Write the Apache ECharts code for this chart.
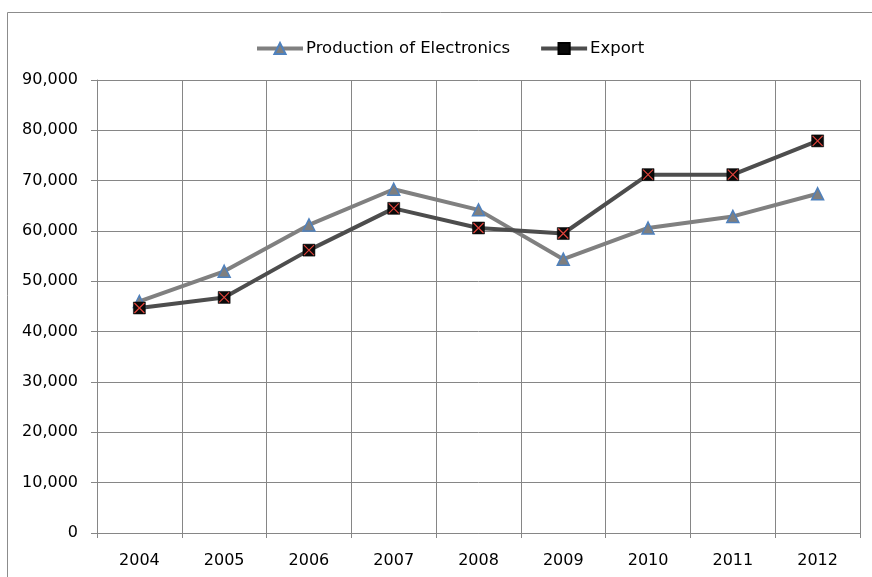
<!DOCTYPE html>
<html>
<head>
<meta charset="utf-8">
<script src="https://cdn.jsdelivr.net/npm/echarts@6/dist/echarts.min.js"></script>
<style>html,body{margin:0;padding:0;background:#fff;}#c{width:872px;height:577px;}</style>
</head>
<body>
<div id="c"></div>
<script>
var years = ['2004','2005','2006','2007','2008','2009','2010','2011','2012'];
var production = [46000, 52000, 61200, 68300, 64200, 54400, 60600, 62900, 67400];
var exportVals = [44700, 46800, 56200, 64500, 60600, 59500, 71200, 71200, 77900];
var yTicks = {min: 0, max: 90000, interval: 10000};

var FONT = 'DejaVu Sans';
var chart = echarts.init(document.getElementById('c'), null, {renderer: 'canvas'});
var xPath = 'path://M0,0 L10,10 M10,0 L0,10';
chart.setOption({
  animation: false,
  backgroundColor: '#fff',
  textStyle: {fontFamily: FONT},
  graphic: [{
    type: 'rect', silent: true,
    shape: {x: 7.5, y: 12.5, width: 900, height: 700},
    style: {fill: 'none', stroke: '#8c8c8c', lineWidth: 1}
  }],
  legend: {
    top: 35, left: 250,
    itemGap: 29, itemWidth: 46, itemHeight: 14,
    lineStyle: {width: 4},
    data: ['Production of Electronics', 'Export'],
    textStyle: {fontFamily: FONT, fontSize: 16.5, color: '#000', padding: [0, 0, 0, -2]}
  },
  grid: {left: 97, right: 12, top: 80, bottom: 44, containLabel: false},
  xAxis: {
    type: 'category', data: years, boundaryGap: true,
    axisLine: {show: true, lineStyle: {color: '#868686', width: 1}},
    axisTick: {show: true, length: 5, lineStyle: {color: '#868686'}},
    axisLabel: {fontFamily: FONT, fontSize: 16, color: '#000', margin: 20},
    splitLine: {show: true, lineStyle: {color: '#868686', width: 1}}
  },
  yAxis: {
    type: 'value', min: yTicks.min, max: yTicks.max, interval: yTicks.interval,
    axisLine: {show: true, lineStyle: {color: '#868686', width: 1}},
    axisTick: {show: true, length: 6, lineStyle: {color: '#868686'}},
    axisLabel: {fontFamily: FONT, fontSize: 16, color: '#000', margin: 19,
      formatter: function (v) { return v.toLocaleString('en-US'); }},
    splitLine: {show: true, lineStyle: {color: '#868686', width: 1}}
  },
  series: [
    {
      name: 'Production of Electronics', type: 'line', data: production,
      symbol: 'triangle', symbolSize: 12,
      lineStyle: {color: '#808080', width: 4},
      itemStyle: {color: '#7f7f7f', borderColor: '#4f81bd', borderWidth: 1.5}
    },
    {
      name: 'Export', type: 'line', data: exportVals,
      symbol: 'rect', symbolSize: 12,
      lineStyle: {color: '#4d4d4d', width: 4},
      itemStyle: {color: '#0a0a0a', borderColor: '#000', borderWidth: 0.5}
    },
    {
      name: 'ExportX', type: 'line', data: exportVals,
      symbol: xPath, symbolSize: 10,
      lineStyle: {width: 0, opacity: 0},
      itemStyle: {color: 'rgba(0,0,0,0)', borderColor: '#e0443c', borderWidth: 1.2},
      z: 5
    }
  ]
});
</script>
</body>
</html>
